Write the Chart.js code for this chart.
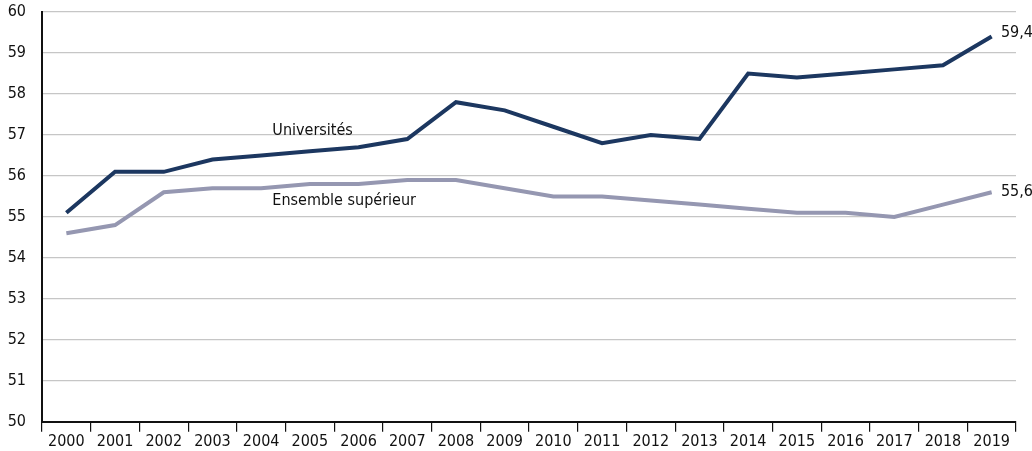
<!DOCTYPE html>
<html>
<head>
<meta charset="utf-8">
<script src="https://cdn.jsdelivr.net/npm/chart.js@4.4.0/dist/chart.umd.min.js"></script>
<style>
  body { margin: 0; background: #fff; }
  #wrap { width: 1032px; height: 451px; }
</style>
</head>
<body>
<div id="wrap"><canvas id="chart"></canvas></div>
<script>
const years = ['2000', '2001', '2002', '2003', '2004', '2005', '2006', '2007', '2008', '2009',
               '2010', '2011', '2012', '2013', '2014', '2015', '2016', '2017', '2018', '2019'];
const universites = [55.1, 56.1, 56.1, 56.4, 56.5, 56.6, 56.7, 56.9, 57.8, 57.6,
                     57.2, 56.8, 57.0, 56.9, 58.5, 58.4, 58.5, 58.6, 58.7, 59.4];
const ensemble = [54.6, 54.8, 55.6, 55.7, 55.7, 55.8, 55.8, 55.9, 55.9, 55.7,
                  55.5, 55.5, 55.4, 55.3, 55.2, 55.1, 55.1, 55.0, 55.3, 55.6];
const yTicks = [50, 51, 52, 53, 54, 55, 56, 57, 58, 59, 60];

const FONT = '"Liberation Sans Narrow", "DejaVu Sans Condensed", "Roboto", sans-serif';

// text labels placed in data coordinates
const notes = [
    { text: 'Universités', x: 4.23, y: 57.09 },
    { text: 'Ensemble supérieur', x: 4.23, y: 55.4 },
    { text: '59,4', x: 19.19, y: 59.49 },
    { text: '55,6', x: 19.19, y: 55.62 }
];

const notesPlugin = {
    id: 'notes',
    afterDatasetsDraw(chart) {
        const ctx = chart.ctx;
        const xs = chart.scales.x, ys = chart.scales.y;
        const step = xs.getPixelForValue(1) - xs.getPixelForValue(0);
        ctx.save();
        ctx.font = '16px ' + FONT;
        ctx.fillStyle = '#111';
        ctx.textBaseline = 'middle';
        ctx.textAlign = 'left';
        notes.forEach(n => {
            ctx.fillText(n.text, xs.getPixelForValue(0) + n.x * step, ys.getPixelForValue(n.y));
        });
        ctx.restore();
    }
};

new Chart(document.getElementById('chart').getContext('2d'), {
    type: 'line',
    data: {
        labels: years,
        datasets: [
            { label: 'Universités', data: universites, borderColor: '#1c3760', borderWidth: 4,
              pointRadius: 0, tension: 0, fill: false },
            { label: 'Ensemble supérieur', data: ensemble, borderColor: '#9597b1', borderWidth: 4,
              pointRadius: 0, tension: 0, fill: false }
        ]
    },
    options: {
        responsive: true,
        maintainAspectRatio: false,
        animation: false,
        layout: { padding: { top: 12, right: 16, left: 0, bottom: 0 } },
        plugins: { legend: { display: false }, tooltip: { enabled: false } },
        scales: {
            x: {
                offset: true,
                grid: { offset: true, drawOnChartArea: false, drawTicks: true, tickLength: 10,
                        color: '#111', lineWidth: 1.2 },
                border: { color: '#111', width: 2 },
                ticks: { color: '#111', font: { family: FONT, size: 16 }, padding: 0,
                         maxRotation: 0, autoSkip: false }
            },
            y: {
                min: 50, max: 60,
                afterBuildTicks(scale) { scale.ticks = yTicks.map(v => ({ value: v })); },
                afterFit(scale) { scale.width = 42; scale.paddingTop = 0; scale.paddingBottom = 0; },
                grid: { color: '#c6c6c6', lineWidth: 1.2, drawTicks: false },
                border: { color: '#111', width: 2 },
                ticks: { color: '#111', font: { family: FONT, size: 16 }, padding: 16 }
            }
        }
    },
    plugins: [notesPlugin]
});
</script>
</body>
</html>
